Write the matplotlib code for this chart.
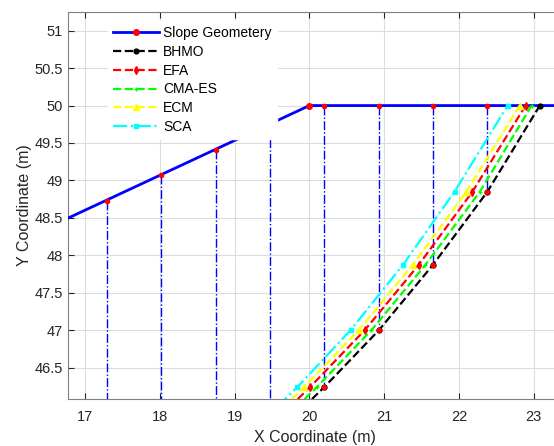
import numpy as np
import matplotlib.pyplot as plt

plt.rcParams['font.family'] = ['Liberation Sans', 'DejaVu Sans']

# slope surface
slope_x = [14.0, 20.0, 25.0]
slope_y = [47.204, 50.0, 50.0]

# slice lines: x, top (surface) and bottom (slip surface)
slice_x = [17.30, 18.02, 18.75, 19.47, 20.20, 20.93, 21.65, 22.38]
slice_top = [48.73, 49.07, 49.41, 49.75, 50.0, 50.0, 50.0, 50.0]
slice_bot = [44.0, 44.5, 45.0, 45.53, 46.24, 47.00, 47.87, 48.85]

# slip surfaces
crit_y = [45.53, 46.24, 47.00, 47.87, 48.85, 50.00]
bhmo_x = [19.47, 20.20, 20.93, 21.65, 22.38, 23.08]
efa_x = [19.28, 20.01, 20.74, 21.46, 22.18, 22.89]
cma_x = [19.37, 20.10, 20.83, 21.55, 22.28, 22.97]
ecm_x = [19.20, 19.93, 20.66, 21.38, 22.10, 22.81]
sca_x = [19.11, 19.84, 20.55, 21.25, 21.94, 22.65]

fig = plt.figure(figsize=(5.54, 4.46), dpi=100)
# axes run a little past the right edge of the figure (cropped like the original)
ax = fig.add_axes([68/554, 47/446, 494/554, 387/446])

ax.plot(slope_x, slope_y, 'b-', lw=2, marker='.', mfc='r', mec='r', ms=8,
        label='Slope Geometery', zorder=3)
ax.plot(slice_x, slice_top, 'r.', ms=6, zorder=4)
for i in range(len(slice_x)):
    ax.plot([slice_x[i], slice_x[i]], [slice_top[i], slice_bot[i]], 'b-.', lw=1, zorder=2)
ax.plot(slice_x[4:], slice_bot[4:], 'r.', ms=6, zorder=6)

ax.plot(bhmo_x, crit_y, 'k--', lw=1.6, marker='.', ms=7, label='BHMO', zorder=5)
ax.plot(efa_x, crit_y, 'r--', lw=1.6, marker='d', ms=4, label='EFA', zorder=5)
ax.plot(cma_x, crit_y, '--', color='#00ff00', lw=1.6, marker='+', ms=3, label='CMA-ES', zorder=5)
ax.plot(ecm_x, crit_y, '--', color='#ffff00', lw=1.6, marker='^', ms=4, label='ECM', zorder=5)
ax.plot(sca_x, crit_y, '-.', color='#00ffff', lw=1.6, marker='s', ms=3, label='SCA', zorder=5)

ax.set_xlim(16.773, 17 + (562 - 85) / 74.8)
ax.set_ylim(46.08, 51.25)
ax.set_xticks([17, 18, 19, 20, 21, 22, 23])
ax.set_yticks([46.5, 47, 47.5, 48, 48.5, 49, 49.5, 50, 50.5, 51])
ax.set_yticklabels(['46.5', '47', '47.5', '48', '48.5', '49', '49.5', '50', '50.5', '51'])
ax.grid(True, color='#dcdcdc', lw=0.8)
ax.set_axisbelow(True)
ax.tick_params(direction='in', top=True, right=True, labelsize=10.5, colors='#262626',
               length=4)
ax.tick_params(axis='x', pad=8)
for s in ax.spines.values():
    s.set_color('#808080')
ax.set_xlabel('X Coordinate (m)', fontsize=11.5, color='#262626', labelpad=4)
ax.set_ylabel('Y Coordinate (m)', fontsize=11.5, color='#262626', labelpad=2)

leg = ax.legend(loc='upper left', bbox_to_anchor=(0.1942, 0.9536),
                bbox_transform=fig.transFigure, fontsize=10,
                handlelength=3.3, labelspacing=0.34, frameon=True, fancybox=False,
                borderpad=0.4, handletextpad=0.3, borderaxespad=0)
leg.get_frame().set_edgecolor('white')
leg.get_frame().set_alpha(1)
leg.set_zorder(10)

fig.savefig('out.png', dpi=100)
